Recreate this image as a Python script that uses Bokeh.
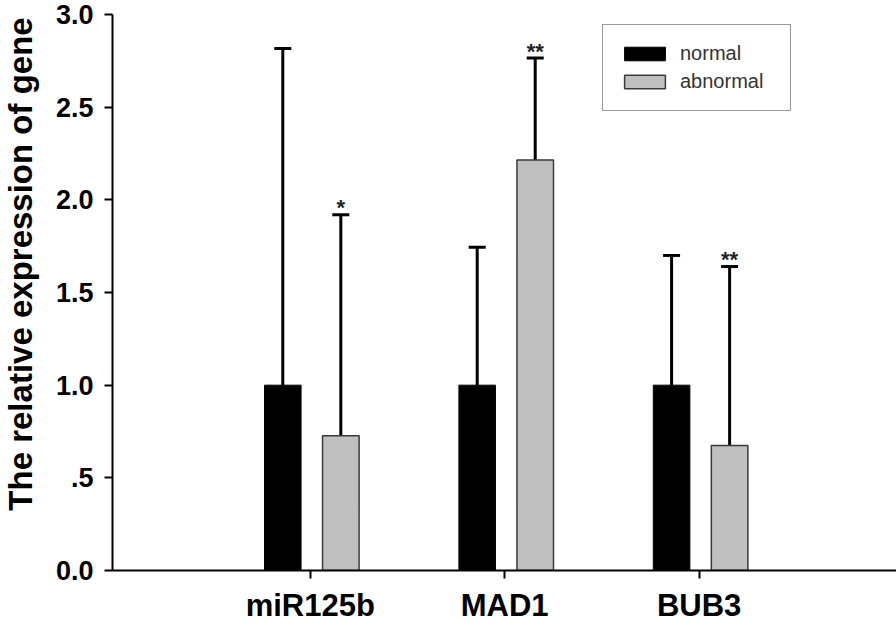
import math
from bokeh.plotting import figure
from bokeh.layouts import row
from bokeh.models import (ColumnDataSource, FixedTicker, Legend, LegendItem,
                          Whisker, TeeHead)
from bokeh.core.properties import value
from bokeh.embed import file_html
from bokeh.resources import INLINE

# ---- data ----
genes = ["miR125b", "MAD1", "BUB3"]
gene_pos = [1, 2, 3]
normal_mean = [1.0, 1.0, 1.0]
normal_err = [1.816, 0.744, 0.70]
abnormal_mean = [0.727, 2.215, 0.674]
abnormal_err = [1.193, 0.55, 0.966]
stars = ["*", "**", "**"]
y_ticks = [0, 0.5, 1.0, 1.5, 2.0, 2.5, 3.0]
y_tick_labels = ["0.0", ".5", "1.0", "1.5", "2.0", "2.5", "3.0"]
y_title = "The relative expression of gene"

# ---- layout params ----
off_n, off_a, bw = -0.1415, 0.157, 0.188
FONT = "Liberation Sans"
TITLE_W = 40
H = 625
TOP, BOTTOM = 14, 52

xn = [g + off_n for g in gene_pos]
xa = [g + off_a for g in gene_pos]

src_n = ColumnDataSource(dict(x=xn, top=normal_mean,
                              upper=[m + e for m, e in zip(normal_mean, normal_err)]))
src_a = ColumnDataSource(dict(x=xa, top=abnormal_mean,
                              upper=[m + e for m, e in zip(abnormal_mean, abnormal_err)],
                              star=stars))

p = figure(width=896 - TITLE_W, height=H, x_range=(-0.0175, 4.0155),
           y_range=(0, 3.0), output_backend="svg", toolbar_location=None,
           min_border_left=112 - TITLE_W, min_border_right=0,
           min_border_top=TOP, min_border_bottom=BOTTOM)
p.xgrid.visible = False
p.ygrid.visible = False
p.outline_line_color = None
p.background_fill_color = "white"

r_n = p.vbar(x="x", top="top", width=bw, source=src_n,
             fill_color="black", line_color="black", line_width=1)
r_a = p.vbar(x="x", top="top", width=bw, source=src_a,
             fill_color="#c0c0c0", line_color="#3a3a3a", line_width=1.5)

for src in (src_n, src_a):
    w = Whisker(base="x", lower="top", upper="upper", source=src,
                upper_head=TeeHead(size=17, line_width=3, line_color="black"),
                lower_head=None, line_width=3, line_color="black")
    p.add_layout(w)

p.text(x="x", y="upper", text="star", source=src_a, text_align="center",
       text_baseline="alphabetic", y_offset=-7, text_font_size="22px",
       text_font_style="bold", text_font=value(FONT), text_color="#222222")

# axes
xa_ = p.xaxis[0]
xa_.ticker = FixedTicker(ticks=gene_pos)
xa_.major_label_overrides = {g: n for g, n in zip(gene_pos, genes)}
xa_.minor_tick_line_color = None
xa_.major_tick_in = 0
xa_.major_tick_out = 8
xa_.major_tick_line_width = 2
xa_.axis_line_width = 2
xa_.major_label_text_font = FONT
xa_.major_label_text_font_style = "bold"
xa_.major_label_text_font_size = "31px"
xa_.major_label_text_line_height = 0.85
xa_.major_label_text_color = "black"
xa_.major_label_standoff = 9

ya = p.yaxis[0]
ya.ticker = FixedTicker(ticks=y_ticks)
ya.major_label_overrides = {t: l for t, l in zip(y_ticks, y_tick_labels)}
ya.minor_tick_line_color = None
ya.major_tick_in = 0
ya.major_tick_out = 8
ya.major_tick_line_width = 2
ya.axis_line_width = 2
ya.major_label_text_font = FONT
ya.major_label_text_font_style = "bold"
ya.major_label_text_font_size = "27px"
ya.major_label_text_color = "black"
ya.major_label_standoff = 11

legend = Legend(items=[LegendItem(label="normal", renderers=[r_n]),
                       LegendItem(label="abnormal", renderers=[r_a])],
                location=(490, 459), orientation="vertical",
                border_line_color="#333333", border_line_width=1.5,
                background_fill_color="white", background_fill_alpha=1,
                padding=16, spacing=3, margin=0,
                label_height=25, glyph_height=17, glyph_width=51,
                label_standoff=10, label_width=94,
                label_text_font=FONT, label_text_font_size="20px",
                label_text_color="#333333")
p.add_layout(legend)

# narrow strip on the left holding the y-axis title, sharing the y scale
px_per_unit = (H - TOP - BOTTOM) / 3.0
pt = figure(width=TITLE_W, height=H, x_range=(0, TITLE_W),
            y_range=(-BOTTOM / px_per_unit, 3.0 + TOP / px_per_unit),
            x_axis_location=None, y_axis_location=None,
            output_backend="svg", toolbar_location=None, min_border=0)
pt.xgrid.visible = False
pt.ygrid.visible = False
pt.outline_line_color = None
pt.text(x=[19.5], y=[1.57], text=[y_title], angle=math.pi / 2,
        text_align="center", text_baseline="middle",
        text_font=value(FONT), text_font_style="bold",
        text_font_size="33px", text_color="black")

layout = row(pt, p, spacing=0)
open("out.html", "w").write(file_html(layout, INLINE))
